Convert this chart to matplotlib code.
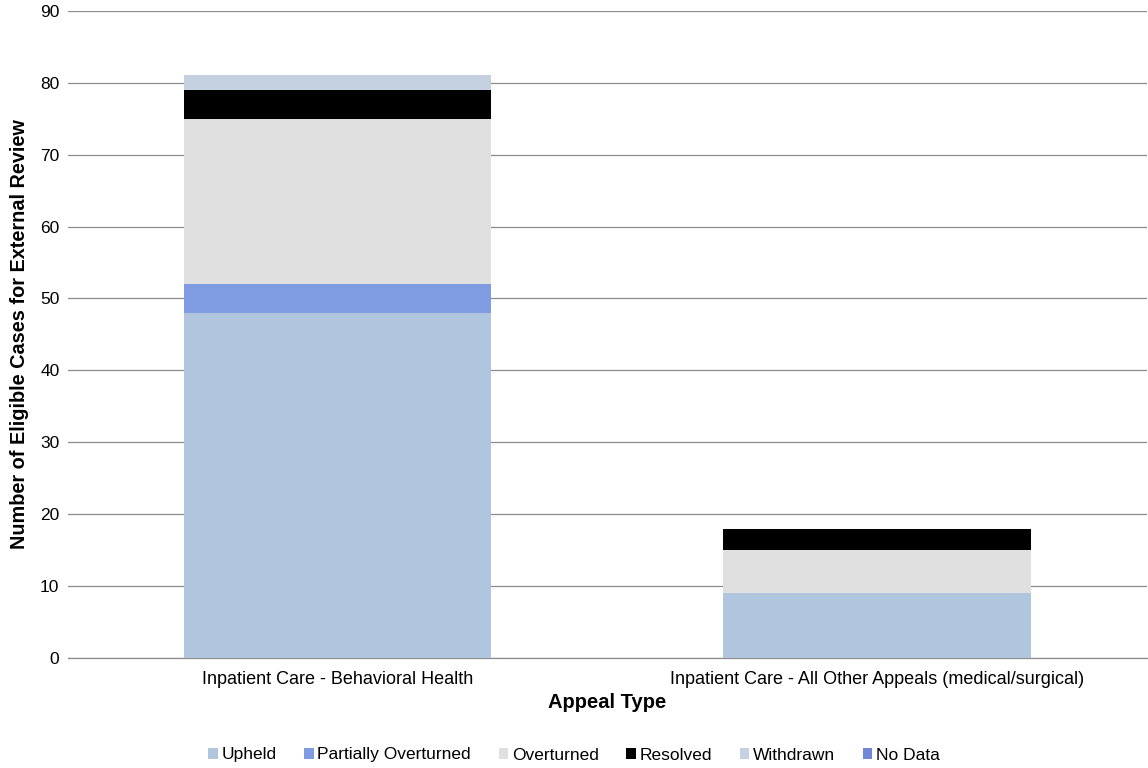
import matplotlib

matplotlib.use("Agg")
import matplotlib.pyplot as plt
import numpy as np

plt.rcParams["font.family"] = ["Liberation Sans", "DejaVu Sans"]

categories = [
    "Inpatient Care - Behavioral Health",
    "Inpatient Care - All Other Appeals (medical/surgical)",
]
series = ["Upheld", "Partially Overturned", "Overturned", "Resolved", "Withdrawn", "No Data"]
upheld = [48, 9]
partially_overturned = [4, 0]
overturned = [23, 6]
resolved = [4, 3]
withdrawn = [2, 0]
no_data = [0, 0]
colors = ["#B0C6DF", "#7F9BE2", "#E0E0E0", "#000000", "#C5D1E0", "#6F87D6"]

values = [upheld, partially_overturned, overturned, resolved, withdrawn, no_data]

fig = plt.figure(figsize=(11.48, 7.68), dpi=100)
ax = fig.add_axes([0.059, 0.143, 0.94, 0.843])

x = np.arange(len(categories))
bottom = np.zeros(len(categories))
for name, vals, color in zip(series, values, colors):
    vals = np.asarray(vals, dtype=float)
    ax.bar(x, vals, bottom=bottom, width=0.57, color=color, label=name, zorder=3)
    bottom += vals

ax.set_xlim(-0.5, 1.5)
ax.set_ylim(0, 90)
ax.set_yticks(np.arange(0, 91, 10))
ax.yaxis.grid(True, color="#8C8C8C", linewidth=0.9, zorder=0)
for side in ["left", "right", "top"]:
    ax.spines[side].set_visible(False)
ax.spines["bottom"].set_color("#8C8C8C")
ax.spines["bottom"].set_linewidth(0.9)
ax.tick_params(axis="y", length=0, labelsize=12.5, pad=6)
ax.tick_params(axis="x", length=0, labelsize=13, pad=9)
ax.set_xticks(x)
ax.set_xticklabels(categories)
ax.set_xlabel("Appeal Type", fontsize=14.5, fontweight="bold", labelpad=4)
ax.set_ylabel("Number of Eligible Cases for External Review", fontsize=14.3,
              fontweight="bold", labelpad=8)

fig.legend(loc="center", bbox_to_anchor=(0.5, 1 - 755 / 768), ncol=6, frameon=False,
           fontsize=12.5, handlelength=0.55, handleheight=0.55, handletextpad=0.2,
           columnspacing=1.6)

fig.savefig("out.png", dpi=100)
